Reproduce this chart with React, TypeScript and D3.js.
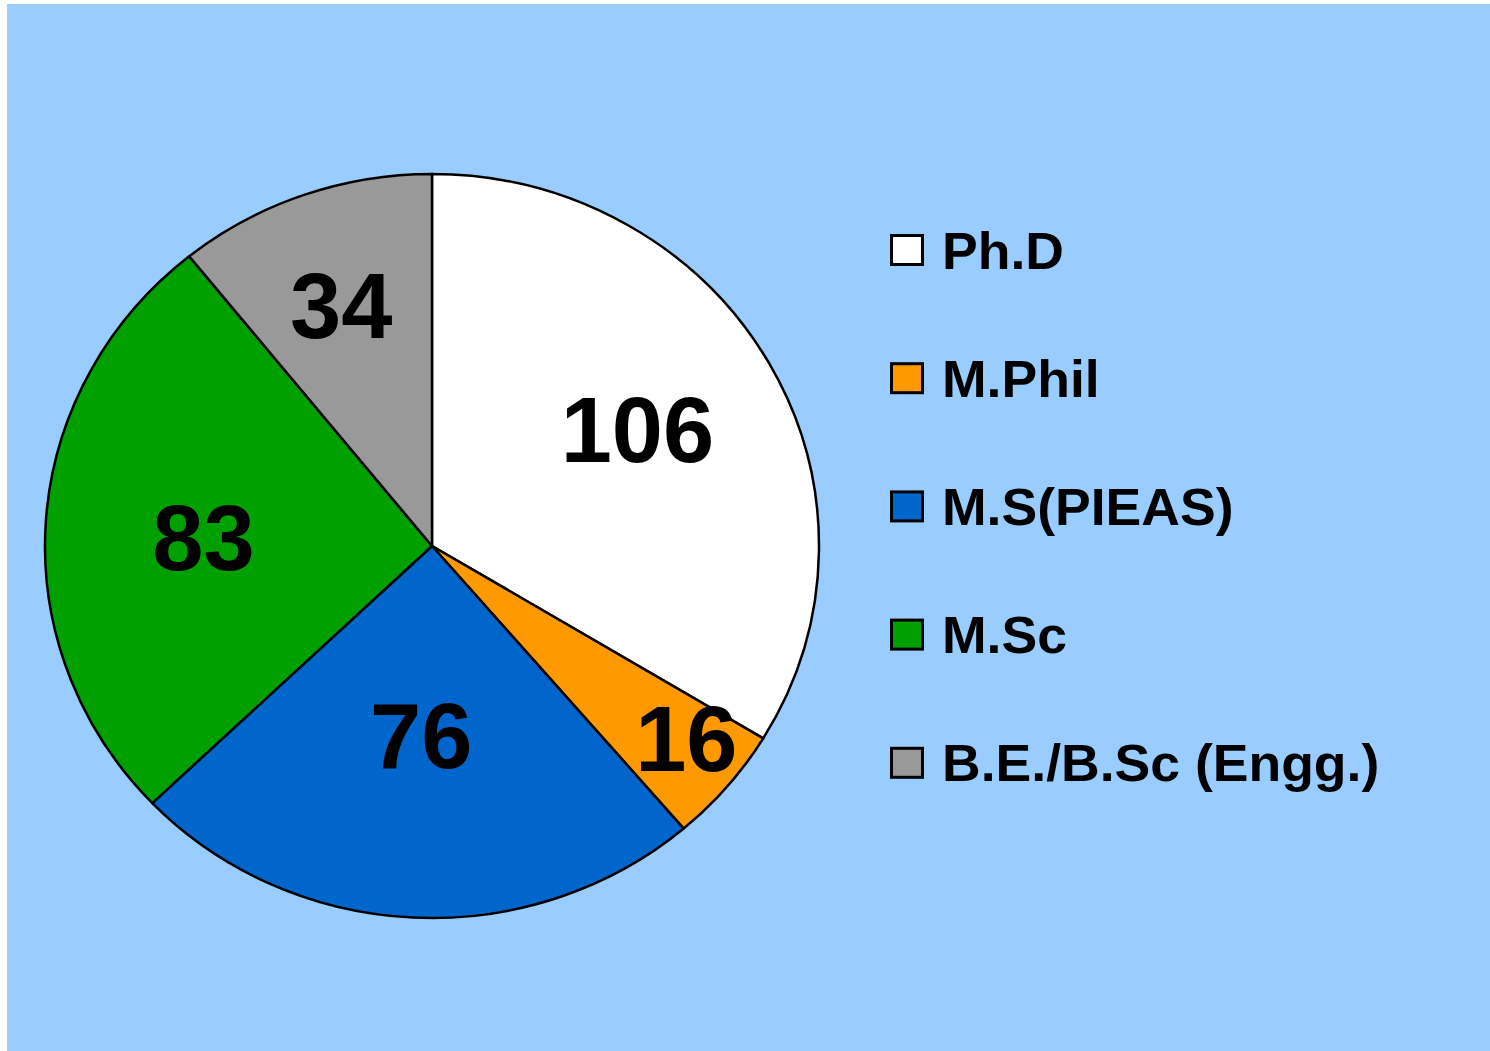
import React from "react";
import * as d3 from "d3";

const categories = ["Ph.D", "M.Phil", "M.S(PIEAS)", "M.Sc", "B.E./B.Sc (Engg.)"];
const values = [106, 16, 76, 83, 34];
const colors = ["#FFFFFF", "#FF9900", "#0066CC", "#00A000", "#999999"];
const labelRadius = [0.617, 0.835, 0.509, 0.591, 0.688];
const labelAngleShift = [-1.2, -2.2, 0.3, -1.4, -0.5];

const W = 1490;
const H = 1051;
const cx = 432;
const cy = 546;
const rx = 387;
const ry = 372;

export default function App() {
  const pie = d3.pie<number>().sort(null).value((d) => d).startAngle(0).endAngle(2 * Math.PI);
  const arcs = pie(values);
  const arcGen = d3.arc<d3.PieArcDatum<number>>().innerRadius(0).outerRadius(ry);
  const sx = rx / ry;
  const font = "'Liberation Sans', Arial, sans-serif";

  return (
    <svg width={W} height={H} style={{ position: "absolute", left: 0, top: 0, display: "block" }}>
      <rect x={0} y={0} width={W} height={H} fill="#FFFFFF" />
      <rect x={7} y={4} width={W - 7} height={H - 4} fill="#99CCFF" />
      <g transform={`translate(${cx},${cy}) scale(${sx},1)`}>
        {arcs.map((a, i) => (
          <path
            key={i}
            d={arcGen(a) || ""}
            fill={colors[i]}
            stroke="#000"
            strokeWidth={2.5}
            strokeLinejoin="round"
            vectorEffect="non-scaling-stroke"
          />
        ))}
      </g>
      {arcs.map((a, i) => {
        const mid = (a.startAngle + a.endAngle) / 2 + (labelAngleShift[i] * Math.PI) / 180;
        const r = labelRadius[i];
        const x = cx + Math.sin(mid) * rx * r;
        const y = cy - Math.cos(mid) * ry * r;
        return (
          <text
            key={i}
            x={x}
            y={y}
            dy="0.358em"
            textAnchor="middle"
            fontFamily={font}
            fontWeight="bold"
            fontSize={92}
            fill="#000"
          >
            {values[i]}
          </text>
        );
      })}
      {categories.map((c, i) => {
        const yc = 250 + i * 128.2;
        return (
          <g key={c}>
            <rect x={891.5} y={yc - 14.5} width={31} height={29} fill={colors[i]} stroke="#000" strokeWidth={3} />
            <text
              transform={`translate(942,${yc}) scale(1.03,1)`}
              dy="0.358em"
              fontFamily={font}
              fontWeight="bold"
              fontSize={52}
              fill="#000"
            >
              {c}
            </text>
          </g>
        );
      })}
    </svg>
  );
}
